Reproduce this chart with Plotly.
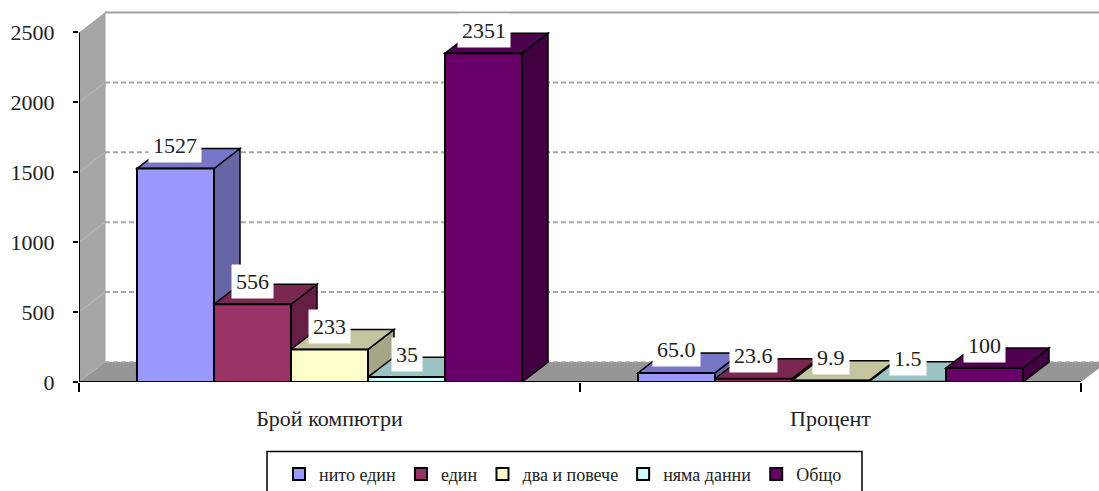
import plotly.graph_objects as go

categories = ["Брой компютри", "Процент"]
series_names = ["нито един", "един", "два и повече", "няма данни", "Общо"]
count_values = [1527, 556, 233, 35, 2351]
percent_values = [65.0, 23.6, 9.9, 1.5, 100]
count_labels = ["1527", "556", "233", "35", "2351"]
percent_labels = ["65.0", "23.6", "9.9", "1.5", "100"]
y_ticks = [0, 500, 1000, 1500, 2000, 2500]

front_colors = ["#9999FF", "#993366", "#FFFFCC", "#CCFFFF", "#660066"]
top_colors = ["#7777C9", "#7A2850", "#C4C49E", "#9CC4C4", "#4F004F"]
side_colors = ["#6666A6", "#661F44", "#A6A686", "#88A6A6", "#420042"]

W, H = 1099, 491
X0, Y0 = 79, 382.5            # pixel position of the axis origin
UNIT_X = 501                  # pixels per category
PX_PER_Y = 350 / 2500
TOP = 8
GAP = 0.2315
DX = 26 / UNIT_X              # depth offset in axis units
DY = 20 / PX_PER_Y
BAR_W = (1 - GAP) / 5
X_MAX = (W - X0) / UNIT_X
Y_MAX = (Y0 - TOP) / PX_PER_Y
WALL_TOP = 2500 + DY


def poly(points, fill, line="rgba(0,0,0,0)", width=0, layer="below"):
    path = "M " + " L ".join(f"{x:.5f},{y:.3f}" for x, y in points) + " Z"
    return dict(type="path", path=path, xref="x", yref="y", fillcolor=fill,
                line=dict(color=line, width=width), layer=layer)


def seg(x0, y0, x1, y1, color, width=1, dash="solid", layer="below"):
    return dict(type="line", x0=x0, y0=y0, x1=x1, y1=y1, xref="x", yref="y",
                line=dict(color=color, width=width, dash=dash), layer=layer)


shapes = []
# walls and floor
shapes.append(poly([(0, 0), (DX, DY), (DX, WALL_TOP), (0, 2500)], "#A6A6A6"))
shapes.append(poly([(0, 0), (2, 0), (2 + DX, DY), (DX, DY)], "#969696"))
shapes.append(seg(DX, WALL_TOP, X_MAX, WALL_TOP, "#A0A0A0", 2))
shapes.append(seg(DX, DY, DX, WALL_TOP, "#A0A0A0", 1))
for v in y_ticks[1:-1]:
    shapes.append(seg(DX, v + DY, X_MAX, v + DY, "#A6A6A6", 2, "5px,3px"))
    shapes.append(seg(0, v, DX, v + DY, "#B8B8B8", 1))
shapes.append(seg(DX, DY, X_MAX, DY, "#A6A6A6", 1.5, "5px,3px"))

# depth faces of each bar, left to right, so that later bars cover earlier ones
annotations = []
for g, (vals, labels) in enumerate([(count_values, count_labels), (percent_values, percent_labels)]):
    for i, v in enumerate(vals):
        xl = g + 0.5 + (i - 2.5) * BAR_W
        xr = xl + BAR_W
        shapes.append(poly([(xr, 0), (xr + DX, DY), (xr + DX, v + DY), (xr, v)],
                           side_colors[i], "#000000", 1.5))
        shapes.append(poly([(xl, v), (xr, v), (xr + DX, v + DY), (xl + DX, v + DY)],
                           top_colors[i], "#000000", 1.5))
        annotations.append(dict(x=(xl + xr) / 2, y=v, xref="x", yref="y", text=labels[i],
                                showarrow=False, yshift=23, bgcolor="#FFFFFF", borderpad=4,
                                font=dict(family="Liberation Serif", size=22, color="#222222")))

# axis lines
shapes.append(seg(0, 0, 0, 2500, "#000000", 2, layer="above"))
shapes.append(seg(0, 0, 2, 0, "#000000", 2, layer="above"))

# legend frame, running off the bottom of the page as in the source picture
shapes.append(dict(type="rect", xref="paper", yref="paper",
                   x0=(267 - X0) / (W - X0), x1=(862 - X0) / (W - X0),
                   y0=-(500 - Y0) / (Y0 - TOP), y1=-(452 - Y0) / (Y0 - TOP),
                   line=dict(color="#000000", width=1.5), fillcolor="rgba(0,0,0,0)"))

fig = go.Figure()
for i, name in enumerate(series_names):
    fig.add_trace(go.Bar(x=[0.5, 1.5], y=[count_values[i], percent_values[i]], name=name,
                         marker=dict(color=front_colors[i], line=dict(color="#000000", width=2))))

fig.update_layout(
    width=W, height=H, autosize=False,
    margin=dict(l=X0, r=0, t=TOP, b=H - Y0, pad=0, autoexpand=False),
    paper_bgcolor="#FFFFFF", plot_bgcolor="#FFFFFF",
    barmode="group", bargap=GAP, bargroupgap=0,
    font=dict(family="Liberation Serif", size=22, color="#222222"),
    shapes=shapes, annotations=annotations,
    showlegend=True,
    legend=dict(orientation="h", x=(279 - X0) / (W - X0), xanchor="left",
                y=-(475 - Y0) / (Y0 - TOP), yanchor="middle",
                font=dict(family="Liberation Serif", size=18),
                bgcolor="rgba(0,0,0,0)", borderwidth=0, itemwidth=30,
                traceorder="normal"),
    xaxis=dict(range=[0, X_MAX], showgrid=False, zeroline=False, showline=False,
               tickvals=[0.5, 1.5], ticktext=categories, ticks="", ticklabelstandoff=21,
               automargin=False,
               tickfont=dict(family="Liberation Serif", size=22),
               minor=dict(tickmode="array", tickvals=[0, 1, 2], ticks="outside", ticklen=9,
                          tickwidth=1.5, tickcolor="#000000", showgrid=False)),
    yaxis=dict(range=[0, Y_MAX], showgrid=False, zeroline=False, showline=False,
               automargin=False,
               tickvals=y_ticks, ticks="outside", ticklen=5, tickwidth=1.5, tickcolor="#000000",
               tickfont=dict(family="Liberation Serif", size=22), ticklabelstandoff=14),
)

fig.write_html("out.html", post_script="document.body.style.margin='0';",
               config=dict(displayModeBar=False))
